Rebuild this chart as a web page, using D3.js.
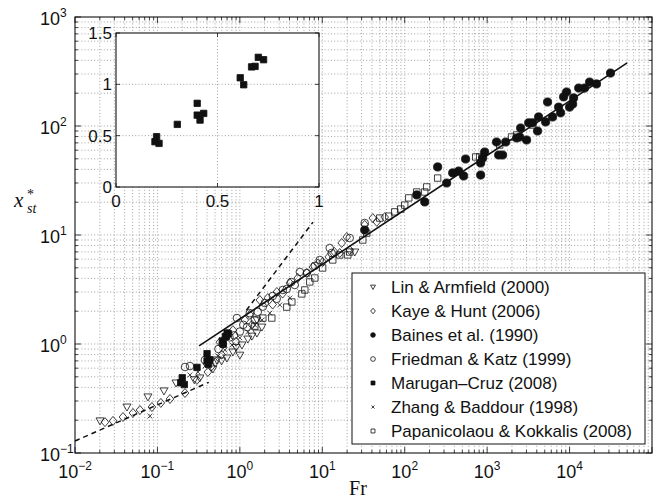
<!DOCTYPE html>
<html>
<head>
<meta charset="utf-8">
<script src="https://cdn.jsdelivr.net/npm/d3@7"></script>
<style>
  body { margin: 0; background: #fff; }
  text { font-family: "Liberation Sans", Arial, sans-serif; fill: #111; }
</style>
</head>
<body>
<svg id="chart" width="659" height="500"></svg>
<script>
// ---- data: [Fr, x*_st] ----
const linArmfield = [[0.0201,0.197],[0.0427,0.264],[0.0767,0.327],[0.120,0.371],[0.168,0.439],[0.28,0.47],[0.327,0.488],[0.471,0.590],[0.526,0.713],[0.60,0.70],[0.696,0.744],[0.823,0.845],[0.90,0.93],[1.0,0.79],[1.06,0.98],[1.25,1.11],[1.40,1.18],[1.61,1.26],[1.61,1.66],[1.85,1.43],[24.8,6.98]];
const kayeHunt = [[0.0231,0.192],[0.0289,0.197],[0.0382,0.214],[0.0505,0.233],[0.0614,0.248],[0.0857,0.264],[0.110,0.288],[0.142,0.313],[0.216,0.355],[0.301,0.468],[0.409,0.553],[0.45,0.62],[0.50,0.68],[0.572,1.04],[0.60,0.80],[0.658,1.14],[0.823,1.34],[0.90,1.05],[1.15,1.66],[1.32,1.85],[1.40,1.50],[1.75,2.53],[2.18,2.64],[2.50,2.30],[2.81,3.00],[3.30,2.90],[4.04,3.63],[5.05,4.03],[6.49,4.48],[7.67,5.09],[8.90,5.50],[10.1,5.65],[12.0,6.30],[14.0,7.00],[16.3,6.84],[21.5,7.28],[17.2,8.45],[19.8,9.59],[32.7,12.4],[41.0,14.3],[45.8,13.2],[57.2,14.6]];
const bainesEtAl = [[31400,306],[21200,243],[17500,253],[15200,223],[12900,223],[11200,181],[9200,205],[8460,185],[10900,159],[10000,149],[7780,132],[7360,149],[6220,121],[5410,166],[5120,109],[4210,121],[4090,90],[3560,107],[3190,107],[3010,74.4],[2550,95.9],[2480,79.3],[2280,77.6],[1680,71.3],[1300,71.3],[1540,54.2],[1380,54.2],[933,57.7],[882,50.8],[834,45.8],[548,49.8],[834,35.5],[519,34.8],[451,38.6],[382,37.1],[323,30.0],[251,42.1],[175,20.1],[140,23.3],[32.7,11.1]];
const friedmanKatz = [[0.216,0.615],[0.248,0.628],[0.377,0.713],[0.55,0.90],[0.62,1.00],[0.75,1.15],[0.85,1.20],[0.920,1.73],[1.0,1.30],[1.1,1.5],[1.22,1.43],[1.32,1.92],[1.52,1.66],[1.65,1.97],[1.90,2.20],[2.01,2.38],[2.51,2.76],[2.80,2.60],[3.32,3.13],[3.71,3.20],[4.20,3.70],[4.64,3.48],[5.34,4.58],[6.49,4.48],[8.11,5.20],[9.33,5.90],[12.3,7.60],[13.0,6.84],[21.5,9.38],[32.7,12.9]];
const maruganCruz = [[0.192,0.441],[0.200,0.490],[0.212,0.425],[0.302,0.610],[0.400,0.815],[0.400,0.700],[0.414,0.652],[0.432,0.717],[0.612,1.064],[0.629,0.996],[0.668,1.170],[0.685,1.175],[0.701,1.263],[0.727,1.240]];
const zhangBaddour = [[0.0811,0.218],[0.248,0.52],[0.310,0.553],[0.377,0.628],[0.458,0.684],[0.541,0.776],[0.658,0.881],[0.800,0.98],[1.0,1.14],[1.25,1.29],[1.52,1.49],[1.85,1.66],[2.31,1.92],[3.05,2.28],[4.04,2.64]];
const papanicolaouKokkalis = [[1.52,1.46],[1.90,1.73],[2.44,1.73],[3.71,2.18],[4.27,2.43],[6.14,3.13],[5.65,2.88],[7.05,3.71],[8.11,4.03],[10.1,4.98],[13.4,5.90],[16.3,6.56],[20.4,6.56],[21.5,6.98],[31.0,9.00],[34.6,10.4],[49.8,14.3],[64.0,14.9],[75.7,16.3],[89.5,17.3],[100,18.8],[112,21.9],[140,24.8],[175,24.8],[185,27.6],[251,33.3],[726,52.0],[811,52.0],[1420,66.9],[1980,79.3],[2280,82.7],[3560,102]];

// reference power-law lines (end points)
const solidLine = [[0.32,0.962],[50000,380]];
const dashLow = [[0.01,0.129],[0.42,0.445]];
const dashSteep = [[1.2,2.04],[7.7,13.1]];

// tick definitions
const xTickExps = [-2,-1,0,1,2,3,4,5];
const xLabelExps = [-2,-1,0,1,2,3,4];
const yTickExps = [-1,0,1,2,3];
const insetXTicks = [0,0.5,1];
const insetYTicks = [0,0.5,1,1.5];

const legendNames = ["Lin & Armfield (2000)","Kaye & Hunt (2006)","Baines et al. (1990)","Friedman & Katz (1999)","Marugan\u2013Cruz (2008)","Zhang & Baddour (1998)","Papanicolaou & Kokkalis (2008)"];

// ---- drawing ----
const svg = d3.select("#chart");
const L = 75, R = 652, T = 17, B = 453;
const x = d3.scaleLog().domain([1e-2, 1e5]).range([L, R]);
const y = d3.scaleLog().domain([1e-1, 1e3]).range([B, T]);

svg.append("rect").attr("x",L).attr("y",T).attr("width",R-L).attr("height",B-T).attr("fill","#fff");

// grid (major and minor, dotted)
const gridG = svg.append("g").attr("stroke","#8a8a8a").attr("stroke-width",0.8).attr("stroke-dasharray","1,2.2");
const xGridVals = [], yGridVals = [];
for (let e = -2; e < 5; e++) for (let k = 1; k <= 9; k++) xGridVals.push(k*Math.pow(10,e));
for (let e = -1; e < 3; e++) for (let k = 1; k <= 9; k++) yGridVals.push(k*Math.pow(10,e));
xGridVals.filter(v => v > 1e-2).forEach(v => gridG.append("line").attr("x1",x(v)).attr("x2",x(v)).attr("y1",T).attr("y2",B));
yGridVals.filter(v => v > 1e-1).forEach(v => gridG.append("line").attr("y1",y(v)).attr("y2",y(v)).attr("x1",L).attr("x2",R));

// model lines
const lineGen = d3.line().x(d => x(d[0])).y(d => y(d[1]));
svg.append("path").attr("d", lineGen(solidLine)).attr("fill","none").attr("stroke","#111").attr("stroke-width",1.6);
svg.append("path").attr("d", lineGen(dashLow)).attr("fill","none").attr("stroke","#111").attr("stroke-width",1.5).attr("stroke-dasharray","5,4");
svg.append("path").attr("d", lineGen(dashSteep)).attr("fill","none").attr("stroke","#111").attr("stroke-width",1.5).attr("stroke-dasharray","5,4");

// marker shapes
function markerPath(type, s) {
  switch (type) {
    case "triDown": return `M${-4*s},${-3*s}L${4*s},${-3*s}L0,${4*s}Z`;
    case "diamond": return `M0,${-4.5*s}L${3.8*s},0L0,${4.5*s}L${-3.8*s},0Z`;
    case "circle": { const r = 3.8*s; return `M${r},0A${r},${r} 0 1 1 ${-r},0A${r},${r} 0 1 1 ${r},0Z`; }
    case "square": { const h = 3.2*s; return `M${-h},${-h}H${h}V${h}H${-h}Z`; }
    case "times": { const a = 2.4*s; return `M${-a},${-a}L${a},${a}M${-a},${a}L${a},${-a}`; }
  }
}
const series = [
  {data: linArmfield, type: "triDown", filled: false},
  {data: kayeHunt, type: "diamond", filled: false},
  {data: bainesEtAl, type: "circle", filled: true},
  {data: friedmanKatz, type: "circle", filled: false},
  {data: maruganCruz, type: "square", filled: true},
  {data: zhangBaddour, type: "times", filled: false},
  {data: papanicolaouKokkalis, type: "square", filled: false}
];
series.forEach(s => {
  svg.append("g").selectAll("path").data(s.data).join("path")
    .attr("transform", d => `translate(${x(d[0])},${y(d[1])})`)
    .attr("d", markerPath(s.type, s.type === "circle" && s.filled ? 1.08 : 1))
    .attr("fill", s.filled ? "#111" : "none")
    .attr("stroke", "#111").attr("stroke-width", 0.8);
});

// ticks and box of an axes frame
function drawBoxTicks(g, majorX, minorX, majorY, minorY, sx, sy, x0, x1, y0, y1, lenMaj, lenMin) {
  const tg = g.append("g").attr("stroke","#111").attr("stroke-width",0.8);
  const vt = (v, len) => {
    tg.append("line").attr("x1",sx(v)).attr("x2",sx(v)).attr("y1",y1).attr("y2",y1-len);
    tg.append("line").attr("x1",sx(v)).attr("x2",sx(v)).attr("y1",y0).attr("y2",y0+len);
  };
  const ht = (v, len) => {
    tg.append("line").attr("y1",sy(v)).attr("y2",sy(v)).attr("x1",x0).attr("x2",x0+len);
    tg.append("line").attr("y1",sy(v)).attr("y2",sy(v)).attr("x1",x1).attr("x2",x1-len);
  };
  majorX.forEach(v => vt(v, lenMaj)); minorX.forEach(v => vt(v, lenMin));
  majorY.forEach(v => ht(v, lenMaj)); minorY.forEach(v => ht(v, lenMin));
  g.append("rect").attr("x",x0).attr("y",y0).attr("width",x1-x0).attr("height",y1-y0)
    .attr("fill","none").attr("stroke","#111").attr("stroke-width",1.1);
}
const xMajor = xTickExps.map(e => Math.pow(10,e));
const yMajor = yTickExps.map(e => Math.pow(10,e));
const xMinor = xGridVals.filter(v => !xMajor.some(m => Math.abs(m - v) < 1e-12));
const yMinor = yGridVals.filter(v => !yMajor.some(m => Math.abs(m - v) < 1e-12));
drawBoxTicks(svg.append("g"), xMajor, xMinor, yMajor, yMinor, x, y, L, R, T, B, 6, 3);

// tick labels with exponents
xLabelExps.forEach(e => {
  const t = svg.append("text").attr("x", x(Math.pow(10,e))).attr("y", 478)
    .attr("text-anchor","middle").attr("font-size",18);
  t.append("tspan").text("10");
  t.append("tspan").attr("dy",-8).attr("font-size",12).text(e < 0 ? "\u2212" + (-e) : String(e));
});
yTickExps.forEach(e => {
  const t = svg.append("text").attr("x", 40).attr("y", y(Math.pow(10,e)) + 8)
    .attr("text-anchor","start").attr("font-size",18);
  t.append("tspan").text("10");
  t.append("tspan").attr("dy",-8).attr("font-size",12).text(e < 0 ? "\u2212" + (-e) : String(e));
});

// axis titles
const serif = "'Liberation Serif', 'DejaVu Serif', serif";
svg.append("text").attr("x",358).attr("y",495).attr("text-anchor","middle")
  .attr("font-size",20).style("font-family",serif).text("Fr");
svg.append("text").attr("x",14).attr("y",207).attr("font-size",21).attr("font-style","italic").style("font-family",serif).text("x");
svg.append("text").attr("x",27).attr("y",199).attr("font-size",14).style("font-family",serif).text("*");
svg.append("text").attr("x",27).attr("y",213).attr("font-size",14).attr("font-style","italic").style("font-family",serif).text("st");

// ---- inset: Marugan-Cruz data on linear axes ----
const iL = 116, iR = 319, iT = 33, iB = 187;
const xi = d3.scaleLinear().domain([0,1]).range([iL, iR]);
const yi = d3.scaleLinear().domain([0,1.5]).range([iB, iT]);
const inset = svg.append("g");
inset.append("rect").attr("x",iL).attr("y",iT).attr("width",iR-iL).attr("height",iB-iT).attr("fill","#fff");
const ig = inset.append("g").attr("stroke","#8a8a8a").attr("stroke-width",0.8).attr("stroke-dasharray","1,2.2");
insetXTicks.filter(v => v > 0 && v < 1).forEach(v => ig.append("line").attr("x1",xi(v)).attr("x2",xi(v)).attr("y1",iT).attr("y2",iB));
insetYTicks.filter(v => v > 0 && v < 1.5).forEach(v => ig.append("line").attr("y1",yi(v)).attr("y2",yi(v)).attr("x1",iL).attr("x2",iR));
inset.append("g").selectAll("path").data(maruganCruz).join("path")
  .attr("transform", d => `translate(${xi(d[0])},${yi(d[1])})`)
  .attr("d", markerPath("square", 1)).attr("fill","#111").attr("stroke","#111").attr("stroke-width",0.8);
drawBoxTicks(inset, insetXTicks, [], insetYTicks, [], xi, yi, iL, iR, iT, iB, 4, 0);
insetXTicks.forEach(v => inset.append("text").attr("x", xi(v)).attr("y", 207).attr("text-anchor","middle").attr("font-size",17).text(String(v)));
insetYTicks.forEach(v => inset.append("text").attr("x", iL - 4).attr("y", yi(v) + 6).attr("text-anchor","end").attr("font-size",17).text(String(v)));

// ---- legend ----
const lg = svg.append("g");
lg.append("rect").attr("x",352).attr("y",273).attr("width",293).attr("height",171)
  .attr("fill","#fff").attr("stroke","#111").attr("stroke-width",1);
legendNames.forEach((name, i) => {
  const cy = 287 + i*24;
  const s = series[i];
  lg.append("path").attr("transform",`translate(373,${cy})`)
    .attr("d", markerPath(s.type, 0.62)).attr("fill", s.filled ? "#111" : "none")
    .attr("stroke","#111").attr("stroke-width",0.8);
  lg.append("text").attr("x",391).attr("y",cy+6).attr("font-size",17).text(name);
});
</script>
</body>
</html>
